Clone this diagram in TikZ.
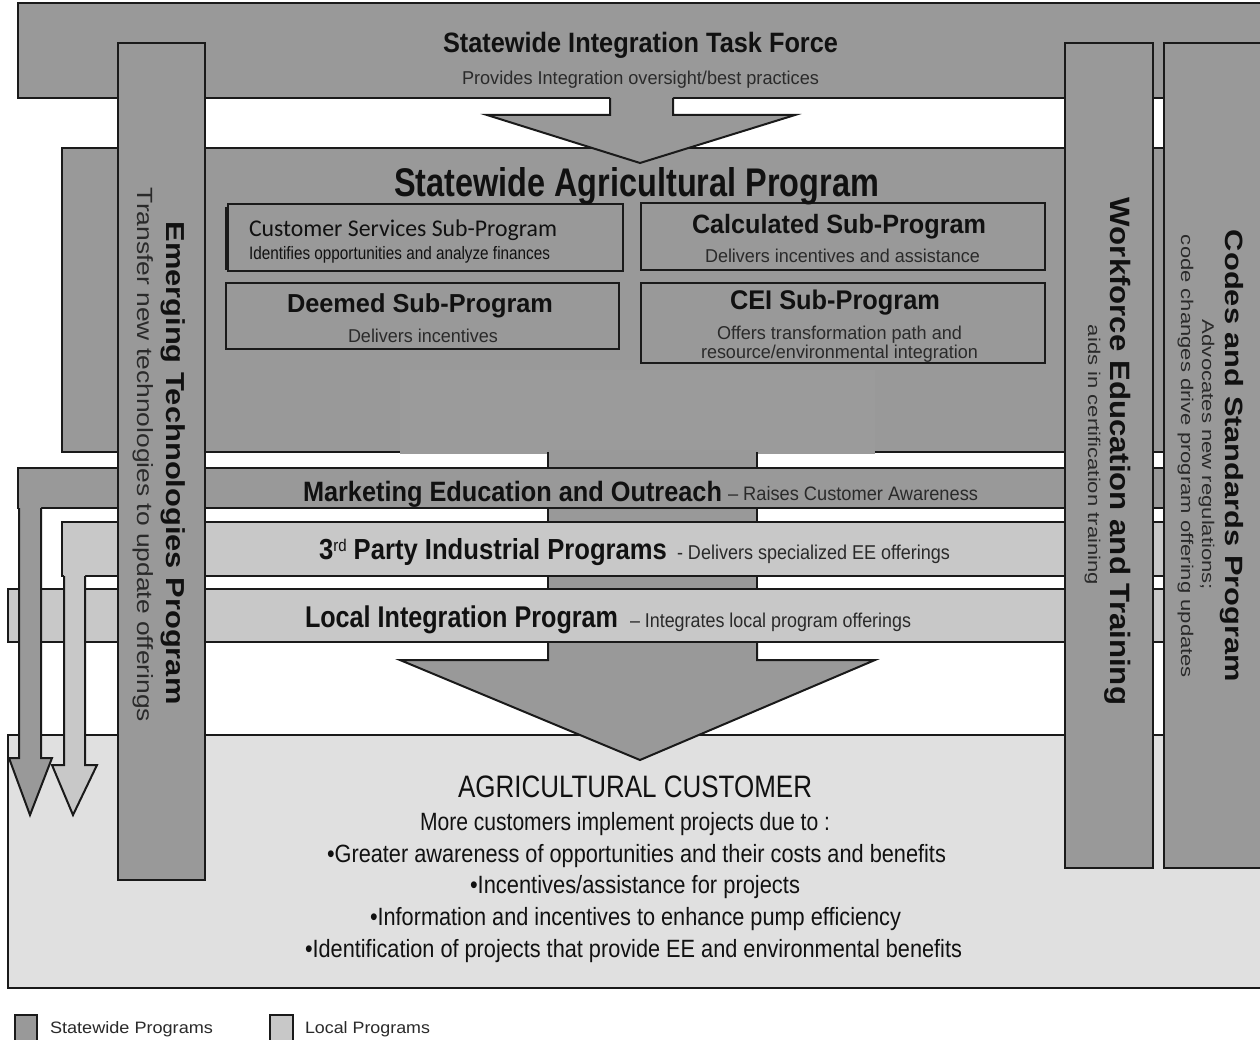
\documentclass[tikz,border=0pt]{standalone}
\usepackage{fontspec}
\usepackage{graphicx}
\setmainfont{Liberation Sans}
\newfontfamily\calfont{Carlito}
\definecolor{dk}{HTML}{999999}
\definecolor{pt}{HTML}{9B9B9B}
\definecolor{lt}{HTML}{C8C8C8}
\definecolor{cu}{HTML}{E0E0E0}
\definecolor{ln}{HTML}{1A1A1A}
\definecolor{tx}{HTML}{111111}
\definecolor{tx2}{HTML}{2A2A2A}
\newcommand{\fw}[3]{\resizebox{#1pt}{\height}{\fontsize{#2pt}{#2pt}\selectfont #3}}
\begin{document}
\begin{tikzpicture}[x=1pt,y=-1pt,
  blk/.style={draw=ln, line width=2pt},
  txt/.style={inner sep=0pt, outer sep=0pt, text=tx},
  sub/.style={inner sep=0pt, outer sep=0pt, text=tx2},
]
\useasboundingbox (0,0) rectangle (1260,1040);
\clip (0,0) rectangle (1260,1040);
\fill[white] (0,0) rectangle (1260,1040);

% Statewide Integration Task Force bar
\draw[blk, fill=dk] (18,3) rectangle (1280,98);
% Statewide Agricultural Program box
\draw[blk, fill=dk] (62,148) rectangle (1280,452);
% top arrow
\fill[dk] (610,96) -- (610,115) -- (487,115) -- (640,163) -- (795,115) -- (673,115) -- (673,96) -- cycle;
\draw[blk] (610,98) -- (610,115) -- (487,115) -- (640,163) -- (795,115) -- (673,115) -- (673,98);
% patch at bottom of agricultural box
\fill[pt] (400,370) rectangle (875,454);

% sub-program boxes
\draw[blk] (228,204) rectangle (623,271);
\draw[draw=ln, line width=1.5pt] (226,207) -- (226,270);
\draw[blk] (226,283) rectangle (619,349);
\draw[blk] (641,203) rectangle (1045,270);
\draw[blk] (641,283) rectangle (1045,363);

% central shaft
\fill[dk] (548,450) rectangle (757,662);
\draw[blk] (548,452) -- (548,662) (757,452) -- (757,662);

% horizontal bars
\draw[blk, fill=dk] (18,468) rectangle (1280,508);
\draw[blk, fill=lt] (62,522) rectangle (1280,576);
\draw[blk, fill=lt] (8,589) rectangle (1280,642);

% customer box
\draw[blk, fill=cu] (8,735) rectangle (1280,988);

% big arrow head
\fill[dk] (548,644) -- (548,660) -- (400,660) -- (640,760) -- (875,660) -- (757,660) -- (757,644) -- cycle;
\draw[blk] (548,643) -- (548,660) -- (400,660) -- (640,760) -- (875,660) -- (757,660) -- (757,643);

% vertical columns
\draw[blk, fill=dk] (118,43) rectangle (205,880);
\draw[blk, fill=dk] (1065,43) rectangle (1153,868);
\draw[blk, fill=dk] (1164,43) rectangle (1280,868);

% left arrows
\fill[dk] (19,506) -- (19,758) -- (9,758) -- (30,815) -- (52,758) -- (41,758) -- (41,506) -- cycle;
\draw[blk] (19,508) -- (19,758) -- (9,758) -- (30,815) -- (52,758) -- (41,758) -- (41,508);
\fill[lt] (64,574) -- (64,765) -- (52,765) -- (73,815) -- (97,765) -- (85,765) -- (85,574) -- cycle;
\draw[blk] (64,576) -- (64,765) -- (52,765) -- (73,815) -- (97,765) -- (85,765) -- (85,576);

% texts: top
\node[txt, anchor=base west] (sitf) at (443,53) {\fw{395}{28}{\bfseries Statewide Integration Task Force}};
\node[sub, anchor=base west] (sitfs) at (462,85) {\fw{357}{18.6}{Provides Integration oversight/best practices}};
\node[txt, anchor=base west] (sap) at (394,197) {\fw{485}{40}{\bfseries Statewide Agricultural Program}};

% sub-programs
\node[txt, anchor=base west] (cs) at (249,237) {\fw{308}{24}{\calfont Customer Services Sub-Program}};
\node[txt, anchor=base west] (css) at (249,260) {\fw{301}{18}{Identifies opportunities and analyze finances}};
\node[txt, anchor=base west] (dm) at (287,312.5) {\fw{266}{26}{\bfseries Deemed Sub-Program}};
\node[sub, anchor=base west] (dms) at (348,342) {\fw{150}{18.6}{Delivers incentives}};
\node[txt, anchor=base west] (cl) at (692,234) {\fw{294}{26.5}{\bfseries Calculated Sub-Program}};
\node[sub, anchor=base west] (cls) at (705,263) {\fw{275}{18.6}{Delivers incentives and assistance}};
\node[txt, anchor=base west] (cei) at (730,310) {\fw{210}{27}{\bfseries CEI Sub-Program}};
\node[sub, anchor=base west] (ceis1) at (717,339) {\fw{245}{18.6}{Offers transformation path and}};
\node[sub, anchor=base west] (ceis2) at (701,359) {\fw{277}{18.6}{resource/environmental integration}};

% bars
\node[txt, anchor=base west] (mk) at (303,501) {\fw{419}{28}{\bfseries Marketing Education and Outreach}};
\node[sub, anchor=base west] (mks) at (728,500) {\fw{250}{19.5}{-- Raises Customer Awareness}};
\node[txt, anchor=base west] (tp) at (319,559) {\fw{348}{29}{\bfseries 3\raisebox{8pt}{\fontsize{17pt}{17pt}\selectfont\mdseries rd} Party Industrial Programs}};
\node[sub, anchor=base west] (tps) at (677,559) {\fw{273}{20}{- Delivers specialized EE offerings}};
\node[txt, anchor=base west] (li) at (305,627) {\fw{313}{30}{\bfseries Local Integration Program}};
\node[sub, anchor=base west] (lis) at (630,627) {\fw{281}{20}{-- Integrates local program offerings}};

% customer box texts
\node[txt, anchor=base west] (ac) at (458,797) {\fw{354}{31}{AGRICULTURAL CUSTOMER}};
\node[txt, anchor=base west] (ac1) at (420,830) {\fw{410}{25}{More customers implement projects due to :}};
\node[txt, anchor=base west] (ac2) at (327,862) {\fw{619}{25}{•Greater awareness of opportunities and their costs and benefits}};
\node[txt, anchor=base west] (ac3) at (470,893) {\fw{330}{25}{•Incentives/assistance for projects}};
\node[txt, anchor=base west] (ac4) at (370,925) {\fw{531}{25}{•Information and incentives to enhance pump efficiency}};
\node[txt, anchor=base west] (ac5) at (305,957) {\fw{657}{25}{•Identification of projects that provide EE and environmental benefits}};

% vertical texts
\node[txt, anchor=base, rotate=-90] (et) at (166,463) {\fw{483}{26}{\bfseries Emerging Technologies Program}};
\node[sub, anchor=base, rotate=-90] (ets) at (137,455) {\fw{534}{22}{Transfer new technologies to update offerings}};
\node[txt, anchor=base, rotate=-90] (wf) at (1110,451.5) {\fw{507}{28}{\bfseries Workforce Education and Training}};
\node[sub, anchor=base, rotate=-90] (wfs) at (1088,455) {\fw{260}{17}{aids in certification training}};
\node[txt, anchor=base, rotate=-90] (cd) at (1225,456) {\fw{452}{25}{\bfseries Codes and Standards Program}};
\node[sub, anchor=base, rotate=-90] (cds1) at (1202,455) {\fw{270}{17}{Advocates new regulations;}};
\node[sub, anchor=base, rotate=-90] (cds2) at (1181,456.5) {\fw{443}{17}{code changes drive program offering updates}};

% legend
\draw[line width=1.8pt, draw=ln, fill=dk] (15,1015) rectangle (37,1050);
\node[sub, anchor=base west] (lg1) at (50,1033) {\fw{163}{16.5}{Statewide Programs}};
\draw[line width=1.8pt, draw=ln, fill=lt] (270,1015) rectangle (293,1050);
\node[sub, anchor=base west] (lg2) at (305,1033) {\fw{125}{16.5}{Local Programs}};
\end{tikzpicture}
\end{document}
